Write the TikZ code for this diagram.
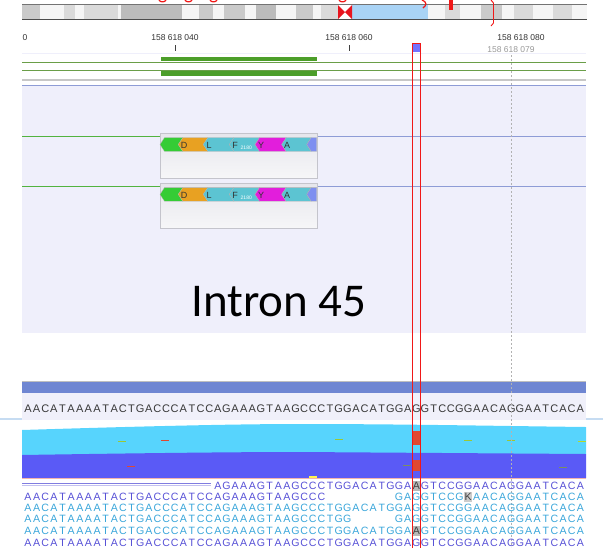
\documentclass[tikz,border=0pt]{standalone}
\usepackage{fontspec}
\setmainfont{Liberation Sans}
\newfontfamily\titlefont{Carlito}
\usetikzlibrary{calc}

\definecolor{bandlt}{HTML}{DADADA}
\definecolor{bandmd}{HTML}{CACACA}
\definecolor{banddk}{HTML}{BCBCBC}
\definecolor{bandwt}{HTML}{F5F5F5}
\definecolor{bandbl}{HTML}{A9D3F5}
\definecolor{cenred}{HTML}{E8141E}
\definecolor{mkred}{HTML}{F01818}
\definecolor{exgreen}{HTML}{4C9E2A}
\definecolor{lngreen}{HTML}{6A9E48}
\definecolor{trkbg}{HTML}{EFEFFB}
\definecolor{trkblue}{HTML}{8E9CD6}
\definecolor{barblue}{HTML}{6F86D2}
\definecolor{seqbg}{HTML}{F0F0FA}
\definecolor{sideblue}{HTML}{C6DCF2}
\definecolor{covcyan}{HTML}{57D4FD}
\definecolor{covpurp}{HTML}{5A5AF6}
\definecolor{rdpurp}{HTML}{5650D6}
\definecolor{rdcyan}{HTML}{3AA6DA}
\definecolor{aagreen}{HTML}{35CC35}
\definecolor{aaorange}{HTML}{E8A122}
\definecolor{aacyan}{HTML}{5CC4D2}
\definecolor{aamag}{HTML}{E21EDC}
\definecolor{aablue}{HTML}{7E8FF0}
\definecolor{boxtop}{HTML}{E6E6EC}
\definecolor{boxbot}{HTML}{F6F6F8}
\definecolor{boxedge}{HTML}{C4C4CC}
\definecolor{dashgreen}{HTML}{9CC832}
\definecolor{dashred}{HTML}{E04830}
\definecolor{dasholive}{HTML}{7C9060}

% one base per cell of width \cellw
\newlength\cellw
\setlength\cellw{8.63pt}
\def\cx#1{23.5+(#1-1)*8.63}
\def\seqrun#1{\seqnext#1\relax}
\def\seqnext#1{\ifx\relax#1\else\makebox[\cellw]{#1}\expandafter\seqnext\fi}
\def\snpmark{\color{black!75}}
% left pointing amino acid chevron: [colour](tip x:next tip x:mid y)
\def\aaseg[#1](#2:#3:#4){\filldraw[#1,draw=black!30,line width=0.3pt] (#2,#4) -- ({#2+4.5},{#4-6.8}) -- ({#3+4.5},{#4-6.8}) -- (#3,#4) -- ({#3+4.5},{#4+6.8}) -- ({#2+4.5},{#4+6.8}) -- cycle;}

\begin{document}
\begin{tikzpicture}[x=1pt,y=-1pt,
  seq/.style={anchor=base west,inner sep=0pt,font=\fontsize{10.6}{12}\selectfont},
  rulelbl/.style={anchor=base,inner sep=0pt,font=\fontsize{8.5}{10}\selectfont,text=black!80},
  aalbl/.style={anchor=base west,inner sep=0pt,font=\fontsize{9}{10}\selectfont,text=black!80},
  redmk/.style={mkred,line width=1.2pt}]
	\useasboundingbox (0,0) rectangle (603,547);
	\clip (0,0) rectangle (603,547);

	%%%%% IDEOGRAM %%%%%
	\foreach \xa/\xb/\c in {22/40/bandmd, 40/64/bandwt, 64/75/bandlt, 75/84/bandwt, 84/118/bandlt,
	    118/121/bandwt, 121/182/banddk, 182/199/bandwt, 199/213/bandmd, 213/224/bandwt,
	    224/245/bandmd, 245/256/bandwt, 256/276/banddk, 276/296/bandwt, 296/313/bandmd,
	    313/321/bandwt, 321/338/bandlt, 352/428/bandbl, 428/445/bandwt, 445/460/bandlt,
	    460/481/bandwt, 481/502/bandmd, 502/514/bandwt, 514/533/bandlt, 533/553/bandwt,
	    553/572/bandlt, 572/587/bandwt}
		\fill[\c] (\xa,5) rectangle (\xb,19);
	\fill[cenred] (338,5) -- (345,12) -- (338,19) -- cycle;
	\fill[cenred] (352,5) -- (345,12) -- (352,19) -- cycle;
	\draw[black!55,line width=1.5pt] (22,4.5) -- (587,4.5);
	\draw[black!70,line width=1.5pt] (22,19.5) -- (587,19.5);

	% red marks over the bar
	\foreach \mx in {159,185,210,339}
		\draw[redmk] (\mx,0) .. controls ({\mx+1},2.5) and ({\mx+6},2.5) .. ({\mx+7},0);
	\draw[redmk] (422,0) .. controls (427,2) and (427,5) .. (423,8);
	\fill[mkred] (448.5,0) rectangle (452.5,9.5);
	\draw[mkred,line width=0.9pt] (491,0) -- (493.5,3) -- (493.5,23) -- (491,26);

	%%%%% RULER %%%%%
	\node[rulelbl,anchor=base east] (r000) at (27.5,40.7) {0};
	\node[rulelbl] (r040) at (175,40.7) {158 618 040};
	\node[rulelbl] (r060) at (349,40.7) {158 618 060};
	\node[rulelbl] (r080) at (521,40.7) {158 618 080};
	\node[rulelbl,text=black!40] (r079) at (511,52.3) {158 618 079};
	\draw[black!75,line width=0.8pt] (r040.south) ++(0,4.5) -- ++(0,6);
	\draw[black!75,line width=0.8pt] (r060.south) ++(0,4.5) -- ++(0,6);
	\draw[trkbg,line width=1.5pt] (22,53.5) -- (586,53.5);

	%%%%% GENE TRACKS %%%%%
	\fill[exgreen] (161,57) rectangle (317,60.5);
	\draw[lngreen,line width=0.8pt] (22,62) -- (586,62);
	\draw[lngreen,line width=0.8pt] (22,70.5) -- (586,70.5);
	\fill[exgreen] (161,71) rectangle (317,76);
	\draw[black!22,line width=1.5pt] (22,80) -- (586,80);
	\fill[trkbg] (22,85) rectangle (586,333);
	\draw[trkblue,line width=1pt] (22,85) -- (586,85);

	\foreach \ym [count=\k] in {144.5,194.4} {
		\draw[aagreen!45!lngreen,line width=0.8pt] (22,{\ym-8}) -- (160,{\ym-8});
		\draw[trkblue,line width=0.8pt] (317,{\ym-8.5}) -- (586,{\ym-8.5});
		\shade[top color=boxtop,bottom color=boxbot,draw=boxedge] (160,{\ym-11.2}) rectangle (317,{\ym+33.9});
		\aaseg[aagreen](160:178.3:\ym)
		\aaseg[aaorange](178.3:203.3:\ym)
		\aaseg[aacyan](203.3:229.3:\ym)
		\aaseg[aacyan](229.3:255:\ym)
		\aaseg[aamag](255:281.7:\ym)
		\aaseg[aacyan](281.7:306.7:\ym)
		\filldraw[aablue,draw=black!30,line width=0.3pt] (306.7,\ym) -- (311.2,{\ym-6.8}) -- (316.7,{\ym-6.8})
			-- (316.7,{\ym+6.8}) -- (311.2,{\ym+6.8}) -- cycle;
		\node[aalbl] (aaD\k) at (180.6,{\ym+3.6}) {D};
		\node[aalbl] (aaL\k) at (206.3,{\ym+3.6}) {L};
		\node[aalbl] (aaF\k) at (232.1,{\ym+3.6}) {F};
		\node[aalbl,text=white,font=\fontsize{5}{5}\selectfont] (aan\k) at (240.5,{\ym+5}) {2180};
		\node[aalbl] (aaY\k) at (257.8,{\ym+3.6}) {Y};
		\node[aalbl] (aaA\k) at (283.8,{\ym+3.6}) {A};
	}

	\node[anchor=base,inner sep=0pt,font=\titlefont\fontsize{47}{50}\selectfont] (intron) at (279,316.5) {Intron 45};

	%%%%% REFERENCE SEQUENCE %%%%%
	\draw[black!25,line width=0.6pt] (22,381) -- (586,381);
	\fill[barblue] (22,381.5) rectangle (586,392.5);
	\fill[seqbg] (22,393) rectangle (586,420);
	\draw[sideblue,line width=2pt] (0,419) -- (22,419);
	\draw[sideblue,line width=2pt] (586,419) -- (603,419);
	\node[seq,text=black!78,font=\fontsize{11}{12}\selectfont] (refseq) at ({\cx{1}},412)
		{\seqrun{AACATAAAATACTGACCCATCCAGAAAGTAAGCCCTGGACATGGAGGTCCGGAACAGGAATCACA}};

	%%%%% COVERAGE %%%%%
	\fill[covcyan] (22,430) .. controls (150,426) and (240,424) .. (300,424)
		.. controls (400,424) and (500,426) .. (586,427) -- (586,454) -- (22,455) -- cycle;
	\fill[covpurp] (22,455) .. controls (150,453) and (240,452) .. (300,452)
		-- (586,454) -- (586,478) -- (22,478) -- cycle;
	\draw[dashred!40,line width=0.5pt] (22,478.2) -- (586,478.2);
	\foreach \dx/\dy/\dc in {118/440.5/dashgreen, 161/439.5/dashred, 335/439/dashgreen,
	    464/440/dashgreen, 507/440/dashgreen, 578/440.5/dashgreen!70!yellow,
	    127/465.5/dashred, 403/465/dasholive, 559/466.5/dasholive}
		\fill[\dc] (\dx,\dy) rectangle ++(8,1.4);
	\fill[yellow!70!white] (309,476) rectangle (317,478);

	\draw[black!30,line width=1pt,dash pattern=on 2pt off 2pt] (511,55) -- (511,547);

	%%%%% READS %%%%%
	\fill[black!28] ({\cx{46}},480.5) rectangle ({\cx{47}},490.5);
	\fill[black!20] ({\cx{52}},492) rectangle ({\cx{53}},501.5);
	\fill[black!28] ({\cx{46}},525.5) rectangle ({\cx{47}},535.5);
	\draw[rdpurp!75,line width=1pt] (22,483.5) -- (211,483.5);
	\draw[rdpurp!35,line width=0.8pt] (22,485.2) -- (211,485.2);
	\node[seq,text=rdpurp] (rd1) at ({\cx{23}},489)
		{\seqrun{AGAAAGTAAGCCCTGGACATGGA{\snpmark A}GTCCGGAACAGGAATCACA}};
	\node[seq,text=rdpurp] (rd2a) at ({\cx{1}},500.3)
		{\seqrun{AACATAAAATACTGACCCATCCAGAAAGTAAGCCC}};
	\node[seq,text=rdcyan] (rd2b) at ({\cx{44}},500.3)
		{\seqrun{GAGGTCCG{\snpmark K}AACAGGAATCACA}};
	\node[seq,text=rdcyan] (rd3) at ({\cx{1}},511.6)
		{\seqrun{AACATAAAATACTGACCCATCCAGAAAGTAAGCCCTGGACATGGAGGTCCGGAACAGGAATCACA}};
	\node[seq,text=rdcyan] (rd4a) at ({\cx{1}},522.9)
		{\seqrun{AACATAAAATACTGACCCATCCAGAAAGTAAGCCCTGG}};
	\node[seq,text=rdcyan] (rd4b) at ({\cx{44}},522.9)
		{\seqrun{GAGGTCCGGAACAGGAATCACA}};
	\node[seq,text=rdcyan] (rd5) at ({\cx{1}},534.2)
		{\seqrun{AACATAAAATACTGACCCATCCAGAAAGTAAGCCCTGGACATGGA{\snpmark A}GTCCGGAACAGGAATCACA}};
	\node[seq,text=rdpurp] (rd6) at ({\cx{1}},546.5)
		{\seqrun{AACATAAAATACTGACCCATCCAGAAAGTAAGCCCTGGACATGGAGGTCCGGAACAGGAATCACA}};

	%%%%% SELECTED BASE %%%%%
	\fill[blue!55!white] (413,44) rectangle (419.5,51.5);
	\fill[dashred] (413,431) rectangle (420,445);
	\fill[dashred] (413,460) rectangle (420,471);
	\draw[mkred,line width=0.9pt] (412.5,43.5) rectangle (420,560);
\end{tikzpicture}
\end{document}
